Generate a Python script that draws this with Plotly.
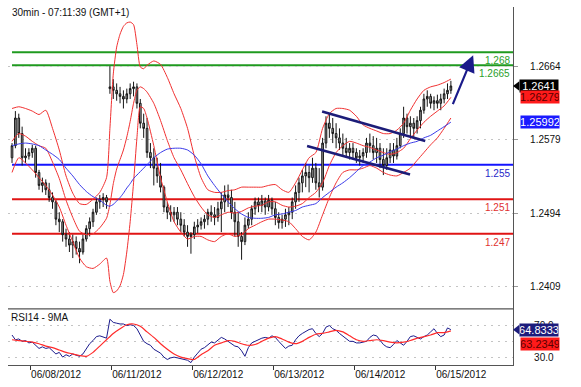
import plotly.graph_objects as go

# ---------------- data ----------------
bar_idx = list(range(131))   # hourly bars, 06/07 evening .. 06/15 07:00
open_ = [1.2558, 1.2572, 1.2604, 1.2586, 1.2558, 1.2560, 1.2564, 1.2569, 1.2541, 1.2526,
         1.2529, 1.2521, 1.2512, 1.2507, 1.2487, 1.2484, 1.2469, 1.2464, 1.2457, 1.2461,
         1.2453, 1.2449, 1.2464, 1.2476, 1.2484, 1.2495, 1.2507, 1.2510, 1.2512, 1.2638,
         1.2640, 1.2636, 1.2632, 1.2629, 1.2626, 1.2632, 1.2638, 1.2640, 1.2621, 1.2598,
         1.2592, 1.2564, 1.2558, 1.2546, 1.2537, 1.2524, 1.2501, 1.2495, 1.2492, 1.2495,
         1.2487, 1.2480, 1.2472, 1.2467, 1.2469, 1.2478, 1.2480, 1.2484, 1.2487, 1.2495,
         1.2492, 1.2489, 1.2499, 1.2507, 1.2515, 1.2512, 1.2495, 1.2484, 1.2467, 1.2461,
         1.2480, 1.2487, 1.2499, 1.2507, 1.2503, 1.2508, 1.2501, 1.2509, 1.2499, 1.2489,
         1.2483, 1.2487, 1.2492, 1.2495, 1.2507, 1.2518, 1.2529, 1.2537, 1.2541, 1.2535,
         1.2546, 1.2529, 1.2524, 1.2575, 1.2598, 1.2592, 1.2586, 1.2581, 1.2575, 1.2569,
         1.2564, 1.2569, 1.2564, 1.2558, 1.2560, 1.2564, 1.2575, 1.2572, 1.2564, 1.2569,
         1.2556, 1.2549, 1.2558, 1.2567, 1.2560, 1.2572, 1.2586, 1.2604, 1.2594, 1.2598,
         1.2592, 1.2601, 1.2613, 1.2626, 1.2629, 1.2621, 1.2624, 1.2621, 1.2626, 1.2632,
         1.2636]
high = [1.2575, 1.2612, 1.2609, 1.2594, 1.2569, 1.2569, 1.2573, 1.2572, 1.2544, 1.2535,
        1.2533, 1.2529, 1.2518, 1.2509, 1.2495, 1.2487, 1.2476, 1.2472, 1.2469, 1.2467,
        1.2461, 1.2469, 1.2480, 1.2489, 1.2499, 1.2512, 1.2515, 1.2517, 1.2515, 1.2664,
        1.2649, 1.2644, 1.2640, 1.2636, 1.2638, 1.2644, 1.2646, 1.2644, 1.2626, 1.2609,
        1.2604, 1.2575, 1.2569, 1.2558, 1.2552, 1.2526, 1.2507, 1.2503, 1.2501, 1.2501,
        1.2495, 1.2487, 1.2480, 1.2472, 1.2484, 1.2487, 1.2489, 1.2492, 1.2499, 1.2503,
        1.2501, 1.2507, 1.2518, 1.2526, 1.2527, 1.2521, 1.2507, 1.2495, 1.2472, 1.2489,
        1.2495, 1.2503, 1.2512, 1.2512, 1.2515, 1.2512, 1.2515, 1.2512, 1.2507, 1.2495,
        1.2492, 1.2499, 1.2501, 1.2512, 1.2526, 1.2535, 1.2544, 1.2552, 1.2549, 1.2558,
        1.2552, 1.2546, 1.2581, 1.2606, 1.2609, 1.2604, 1.2598, 1.2592, 1.2586, 1.2581,
        1.2575, 1.2575, 1.2569, 1.2567, 1.2569, 1.2581, 1.2586, 1.2583, 1.2581, 1.2575,
        1.2569, 1.2569, 1.2575, 1.2575, 1.2581, 1.2592, 1.2617, 1.2609, 1.2606, 1.2604,
        1.2606, 1.2617, 1.2632, 1.2636, 1.2632, 1.2629, 1.2631, 1.2632, 1.2638, 1.2644,
        1.2647]
low = [1.2552, 1.2569, 1.2581, 1.2549, 1.2552, 1.2556, 1.2558, 1.2535, 1.2521, 1.2518,
       1.2515, 1.2507, 1.2499, 1.2480, 1.2472, 1.2461, 1.2455, 1.2449, 1.2442, 1.2446,
       1.2436, 1.2446, 1.2461, 1.2467, 1.2478, 1.2492, 1.2499, 1.2501, 1.2499, 1.2632,
       1.2626, 1.2624, 1.2621, 1.2615, 1.2621, 1.2626, 1.2629, 1.2615, 1.2592, 1.2581,
       1.2558, 1.2546, 1.2526, 1.2529, 1.2518, 1.2495, 1.2487, 1.2484, 1.2484, 1.2480,
       1.2472, 1.2467, 1.2455, 1.2447, 1.2464, 1.2471, 1.2475, 1.2476, 1.2480, 1.2484,
       1.2480, 1.2484, 1.2472, 1.2495, 1.2501, 1.2487, 1.2467, 1.2455, 1.2440, 1.2457,
       1.2476, 1.2480, 1.2492, 1.2495, 1.2495, 1.2492, 1.2496, 1.2492, 1.2480, 1.2476,
       1.2476, 1.2478, 1.2480, 1.2487, 1.2499, 1.2507, 1.2518, 1.2524, 1.2518, 1.2529,
       1.2521, 1.2512, 1.2520, 1.2569, 1.2581, 1.2575, 1.2569, 1.2567, 1.2560, 1.2558,
       1.2556, 1.2556, 1.2552, 1.2549, 1.2552, 1.2558, 1.2564, 1.2556, 1.2552, 1.2546,
       1.2538, 1.2544, 1.2552, 1.2552, 1.2556, 1.2569, 1.2581, 1.2586, 1.2583, 1.2581,
       1.2586, 1.2592, 1.2609, 1.2617, 1.2615, 1.2613, 1.2615, 1.2613, 1.2621, 1.2626,
       1.2632]
close = [1.2572, 1.2604, 1.2586, 1.2558, 1.2560, 1.2564, 1.2569, 1.2541, 1.2526, 1.2529,
         1.2521, 1.2512, 1.2507, 1.2487, 1.2484, 1.2469, 1.2464, 1.2457, 1.2461, 1.2453,
         1.2449, 1.2464, 1.2476, 1.2484, 1.2495, 1.2507, 1.2510, 1.2512, 1.2507, 1.2640,
         1.2636, 1.2632, 1.2629, 1.2626, 1.2632, 1.2638, 1.2640, 1.2621, 1.2598, 1.2592,
         1.2564, 1.2558, 1.2546, 1.2537, 1.2524, 1.2501, 1.2495, 1.2492, 1.2495, 1.2487,
         1.2480, 1.2472, 1.2467, 1.2469, 1.2478, 1.2480, 1.2484, 1.2487, 1.2495, 1.2492,
         1.2489, 1.2499, 1.2507, 1.2515, 1.2512, 1.2495, 1.2484, 1.2467, 1.2461, 1.2480,
         1.2487, 1.2499, 1.2507, 1.2503, 1.2508, 1.2501, 1.2509, 1.2499, 1.2489, 1.2483,
         1.2487, 1.2492, 1.2495, 1.2507, 1.2518, 1.2529, 1.2537, 1.2541, 1.2535, 1.2546,
         1.2529, 1.2524, 1.2575, 1.2598, 1.2592, 1.2586, 1.2581, 1.2575, 1.2569, 1.2564,
         1.2569, 1.2564, 1.2558, 1.2560, 1.2564, 1.2575, 1.2572, 1.2564, 1.2569, 1.2556,
         1.2549, 1.2558, 1.2567, 1.2560, 1.2572, 1.2586, 1.2604, 1.2594, 1.2598, 1.2592,
         1.2601, 1.2613, 1.2626, 1.2629, 1.2621, 1.2624, 1.2621, 1.2626, 1.2632, 1.2636,
         1.2641]

band_idx = list(range(0, 29, 2)) + list(range(29, 40)) + list(range(40, 131, 2))
bb_upper = [1.2615, 1.2617, 1.2615, 1.2612, 1.2608, 1.2613, 1.2592, 1.2567, 1.2537, 1.2517,
            1.2505, 1.2504, 1.2510, 1.2518, 1.2535,
            1.2592, 1.2655, 1.2686, 1.2701, 1.2710, 1.2714, 1.2715, 1.2712, 1.2689, 1.2663, 1.2661,
            1.2665, 1.2670, 1.2666, 1.2651, 1.2632, 1.2615, 1.2592, 1.2560, 1.2535, 1.2521,
            1.2518, 1.2518, 1.2520, 1.2521, 1.2524, 1.2524, 1.2524, 1.2524, 1.2526, 1.2527,
            1.2521, 1.2518, 1.2529, 1.2544, 1.2558, 1.2564, 1.2592, 1.2609, 1.2615, 1.2615,
            1.2613, 1.2606, 1.2596, 1.2592, 1.2589, 1.2586, 1.2586, 1.2590, 1.2598, 1.2613,
            1.2626, 1.2636, 1.2640, 1.2642, 1.2645, 1.2649]
bb_middle = [1.2577, 1.2586, 1.2583, 1.2577, 1.2572, 1.2569, 1.2553, 1.2534, 1.2509, 1.2489,
             1.2473, 1.2469, 1.2470, 1.2477, 1.2488,
             1.2504, 1.2528, 1.2545, 1.2556, 1.2567, 1.2582, 1.2600, 1.2621, 1.2636, 1.2640, 1.2638,
             1.2634, 1.2621, 1.2601, 1.2578, 1.2558, 1.2544, 1.2528, 1.2513, 1.2501, 1.2492,
             1.2489, 1.2492, 1.2495, 1.2494, 1.2496, 1.2500, 1.2502, 1.2503, 1.2507, 1.2507,
             1.2503, 1.2501, 1.2502, 1.2505, 1.2512, 1.2518, 1.2529, 1.2549, 1.2564, 1.2572,
             1.2577, 1.2575, 1.2572, 1.2570, 1.2567, 1.2564, 1.2562, 1.2564, 1.2569, 1.2580,
             1.2590, 1.2599, 1.2606, 1.2612, 1.2618, 1.26279]
bb_lower = [1.2541, 1.2558, 1.2552, 1.2544, 1.2535, 1.2526, 1.2515, 1.2501, 1.2480, 1.2461,
            1.2442, 1.2432, 1.2430, 1.2435, 1.2442,
            1.2415, 1.2402, 1.2404, 1.2410, 1.2423, 1.2449, 1.2484, 1.2529, 1.2581, 1.2617, 1.2615,
            1.2604, 1.2572, 1.2535, 1.2507, 1.2484, 1.2472, 1.2464, 1.2467, 1.2467, 1.2463,
            1.2461, 1.2467, 1.2470, 1.2467, 1.2469, 1.2476, 1.2480, 1.2484, 1.2487, 1.2487,
            1.2486, 1.2484, 1.2476, 1.2467, 1.2463, 1.2472, 1.2492, 1.2512, 1.2529, 1.2541,
            1.2544, 1.2544, 1.2546, 1.2549, 1.2546, 1.2541, 1.2538, 1.2537, 1.2541, 1.2546,
            1.2555, 1.2564, 1.2573, 1.2581, 1.2592, 1.2604]
ma_blue = [1.2572, 1.2574, 1.2575, 1.2574, 1.2572, 1.2567, 1.2562, 1.2556, 1.2546, 1.2537,
           1.2527, 1.2519, 1.2513, 1.2509, 1.2503,
           1.2502, 1.2504, 1.2508, 1.2512, 1.2517, 1.2523, 1.2528, 1.2534, 1.2538, 1.2542, 1.2546,
           1.2550, 1.2558, 1.2564, 1.2568, 1.2569, 1.2569, 1.2567, 1.2561, 1.2551, 1.2537,
           1.2526, 1.2516, 1.2507, 1.2499, 1.2493, 1.2489, 1.2488, 1.2488, 1.2489, 1.2492,
           1.2493, 1.2495, 1.2497, 1.2501, 1.2503, 1.2505, 1.2512, 1.2518, 1.2524, 1.2529,
           1.2535, 1.2542, 1.2549, 1.2553, 1.2558, 1.2561, 1.2565, 1.2568, 1.2572, 1.2575,
           1.2577, 1.2581, 1.2584, 1.2589, 1.2594, 1.25992]

rsi = [58, 52, 53, 50, 51, 48, 49, 45, 41, 43,
       41, 42, 38, 34, 36, 30, 33, 31, 34, 32,
       31, 34, 40, 47, 51, 56, 57, 55, 54, 78,
       74, 73, 72, 72, 70, 71, 70, 66, 58, 50,
       47, 45, 40, 38, 35, 30, 27, 29, 30, 29,
       28, 27, 26, 23, 30, 35, 40, 42, 45, 49,
       48, 52, 55, 53, 50, 46, 44, 43, 38, 31,
       42, 48, 50, 53, 54, 55, 54, 57, 55, 50,
       46, 41, 44, 45, 52, 57, 60, 63, 65, 66,
       60, 56, 60, 68, 70, 66, 64, 60, 57, 54,
       50, 50, 48, 48, 49, 50, 55, 58, 57, 52,
       46, 43, 42, 46, 51, 48, 45, 50, 56, 57,
       55, 53, 56, 58, 62, 66, 60, 56, 58, 67,
       64.8333]
rsi_ma_idx = list(range(0, 131, 2))
rsi_ma = [52, 51, 50, 49, 47, 44, 42, 39, 36, 34, 32, 31, 36, 44, 52, 60, 66, 71, 72, 69,
          62, 55, 47, 40, 34, 30, 28, 27, 33, 38, 45, 48, 51, 50, 47, 45, 46, 50, 54, 56,
          53, 49, 47, 50, 55, 59, 60, 62, 64, 62, 57, 52, 50, 51, 52, 51, 49, 48, 49, 51,
          54, 56, 58, 61, 61, 63.2349]

level_values = [1.268, 1.2665, 1.255, 1.251, 1.247]
level_texts = ["1.268", "1.2665", "1.255", "1.251", "1.247"]
level_colors = ["#1f9a1f", "#1f9a1f", "#1414ff", "#e01414", "#e01414"]
level_text_colors = ["#2aa02a", "#2aa02a", "#2626c8", "#e03030", "#e03030"]

channel_upper_x = [91.85, 122.4]
channel_upper_y = [1.26115, 1.25773]
channel_lower_x = [87.4, 117.9]
channel_lower_y = [1.25716, 1.25385]
arrow_tail = (130.4, 1.26184)
arrow_tip = (136.6, 1.26766)

date_labels = ["06/08/2012", "06/11/2012", "06/12/2012", "06/13/2012", "06/14/2012", "06/15/2012"]
date_tick_idx = [5.33, 29.33, 53.33, 77.33, 101.33, 125.33]
price_ticks = [1.2409, 1.2494, 1.2579, 1.2664]
rsi_ticks = [30, 50, 70]

last_price = 1.2641
last_mid = 1.26279
last_ma = 1.25992
last_rsi = 64.8333
last_rsi_ma = 63.2349

# ---------------- figure ----------------
FONT = "Liberation Sans, Arial, sans-serif"
X_RANGE = [-1.19, 148.4]
Y_RANGE = [1.23833, 1.27324]
RSI_RANGE = [20, 91.25]
SPLIT = 0.157

fig = go.Figure()

for yvals in (bb_upper, bb_lower, bb_middle):
    fig.add_trace(go.Scatter(x=band_idx, y=yvals, mode="lines", line=dict(color="#f03030", width=1, shape="spline", smoothing=0.6),
                             hoverinfo="skip", showlegend=False, xaxis="x", yaxis="y"))
fig.add_trace(go.Scatter(x=band_idx, y=ma_blue, mode="lines", line=dict(color="#3a3ae8", width=1, shape="spline", smoothing=0.6),
                         hoverinfo="skip", showlegend=False, xaxis="x", yaxis="y"))

fig.add_trace(go.Candlestick(x=bar_idx, open=open_, high=high, low=low, close=close,
                             increasing=dict(line=dict(color="#151515", width=1), fillcolor="#9c9c9c"),
                             decreasing=dict(line=dict(color="#151515", width=1), fillcolor="#9c9c9c"),
                             whiskerwidth=0, hoverinfo="skip", showlegend=False, xaxis="x", yaxis="y"))

for cx, cy in ((channel_upper_x, channel_upper_y), (channel_lower_x, channel_lower_y)):
    fig.add_trace(go.Scatter(x=cx, y=cy, mode="lines", line=dict(color="#1c1c78", width=2.6),
                             hoverinfo="skip", showlegend=False, xaxis="x", yaxis="y"))

fig.add_trace(go.Scatter(x=bar_idx, y=rsi, mode="lines", line=dict(color="#1c1c8c", width=1),
                         hoverinfo="skip", showlegend=False, xaxis="x", yaxis="y2"))
fig.add_trace(go.Scatter(x=rsi_ma_idx, y=rsi_ma, mode="lines", line=dict(color="#ff2a2a", width=1.2, shape="spline", smoothing=0.6),
                         hoverinfo="skip", showlegend=False, xaxis="x", yaxis="y2"))

shapes = []
annotations = []
for v, t, c, tc in zip(level_values, level_texts, level_colors, level_text_colors):
    shapes.append(dict(type="line", xref="x", yref="y", x0=0, x1=X_RANGE[1], y0=v, y1=v,
                       line=dict(color=c, width=2), layer="below"))
    annotations.append(dict(xref="x", yref="y", x=X_RANGE[1], y=v, text=t, showarrow=False,
                            xanchor="right", yanchor="top", yshift=-1, xshift=-1,
                            font=dict(family=FONT, size=10, color=tc)))

# separator between panels
shapes.append(dict(type="line", xref="paper", yref="paper", x0=0, x1=1, y0=SPLIT, y1=SPLIT,
                   line=dict(color="#555555", width=1.2)))

# tag pointers
shapes.append(dict(type="path", xref="paper", yref="y",
                   path=f"M 1,{last_price} L 1.0125,{last_price + 0.00055} L 1.0125,{last_price - 0.00055} Z",
                   fillcolor="#000000", line=dict(width=0)))
shapes.append(dict(type="path", xref="paper", yref="y2",
                   path=f"M 1,{last_rsi} L 1.0125,{last_rsi + 6.2} L 1.0125,{last_rsi - 6.2} Z",
                   fillcolor="#1c1c7c", line=dict(width=0)))

def tag(y, yref, text, bg, fg, xshift, yshift=0):
    return dict(xref="paper", yref=yref, x=1, y=y, text=text, showarrow=False, xanchor="left",
                yanchor="middle", xshift=xshift, yshift=yshift, bgcolor=bg, borderpad=0, width=38,
                font=dict(family=FONT, size=11, color=fg))

annotations.append(tag(last_price, "y", "1.2641", "#000000", "#ffffff", 6))
annotations.append(tag(last_mid, "y", "1.26279", "#ff1a1a", "#5a0000", 7))
annotations.append(tag(last_ma, "y", "1.25992", "#1a1aff", "#ffffff", 7))
annotations.append(tag(last_rsi, "y2", "64.8333", "#1c1c7c", "#ffffff", 6))
annotations.append(tag(last_rsi_ma, "y2", "63.2349", "#ff1a1a", "#5a0000", 7, yshift=-13))

annotations.append(dict(xref="x", yref="y", axref="x", ayref="y", x=arrow_tip[0], y=arrow_tip[1],
                        ax=arrow_tail[0], ay=arrow_tail[1], text="", showarrow=True, arrowhead=2,
                        arrowsize=1.5, arrowwidth=2.2, arrowcolor="#1a1a8a", standoff=0))

annotations.append(dict(xref="paper", yref="paper", x=0.004, y=0.9835, text="30min - 07:11:39 (GMT+1)",
                        showarrow=False, xanchor="left", yanchor="middle",
                        font=dict(family=FONT, size=10, color="#111111")))
annotations.append(dict(xref="paper", yref="paper", x=0.002, y=0.132, text="RSI14 - 9MA",
                        showarrow=False, xanchor="left", yanchor="middle",
                        font=dict(family=FONT, size=10, color="#111111")))

fig.update_layout(
    width=581, height=387,
    margin=dict(l=8, r=68, t=7, b=17),
    paper_bgcolor="white", plot_bgcolor="white",
    showlegend=False, hovermode=False,
    font=dict(family=FONT, size=10, color="#111111"),
    xaxis=dict(domain=[0, 1], anchor="y2", range=X_RANGE, showgrid=False, zeroline=False,
               showline=True, linecolor="#555555", linewidth=1.2,
               ticks="outside", ticklen=4, tickcolor="#333333",
               tickvals=date_tick_idx, ticktext=date_labels, ticklabelposition="outside right",
               tickfont=dict(family=FONT, size=10, color="#111111"),
               rangeslider=dict(visible=False)),
    yaxis=dict(domain=[SPLIT, 1], anchor="x", side="right", range=Y_RANGE,
               showline=True, linecolor="#555555", linewidth=1.2, zeroline=False,
               ticks="outside", ticklen=4, tickcolor="#999999",
               tickvals=price_ticks, ticktext=[f"{v:.4f}" for v in price_ticks],
               tickfont=dict(family=FONT, size=10, color="#111111"), ticklabelstandoff=10,
               showgrid=True, gridcolor="#c4c4c4", griddash="2px,5px", gridwidth=1),
    yaxis2=dict(domain=[0, SPLIT], anchor="x", side="right", range=RSI_RANGE,
                showline=True, linecolor="#555555", linewidth=1.2, zeroline=False,
                ticks="", tickvals=rsi_ticks, ticktext=["30.0", "", "70.0"],
                tickfont=dict(family=FONT, size=10, color="#111111"), ticklabelstandoff=18,
                showgrid=True, gridcolor="#c4c4c4", griddash="2px,5px", gridwidth=1),
    shapes=shapes, annotations=annotations,
)

fig.write_html("out.html", config={"displayModeBar": False},
               post_script="document.body.style.margin='0px';document.body.style.overflow='hidden';")
